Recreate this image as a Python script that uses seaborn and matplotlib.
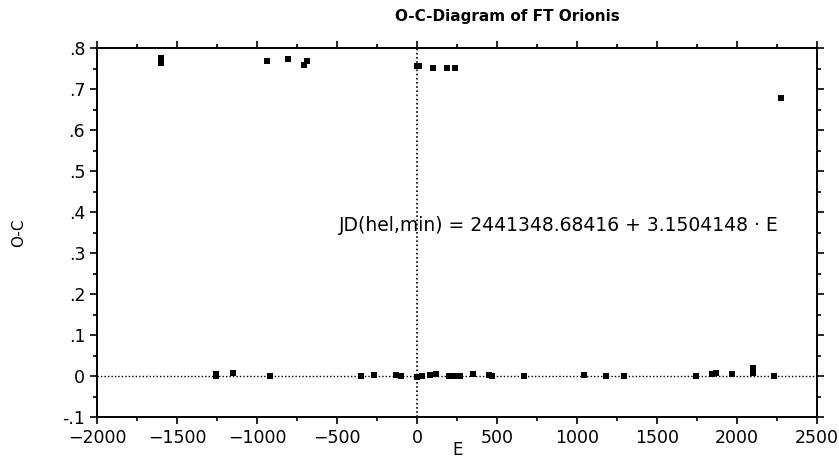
#!/usr/bin/env python3
# O-C diagram of FT Orionis, rebuilt with seaborn
import matplotlib
matplotlib.use("Agg")
import pandas as pd
import seaborn as sns
from matplotlib import pyplot as plt
from matplotlib.ticker import MultipleLocator, FuncFormatter

# epoch E and O-C values (days)
epoch_high = [-1600, -1600, -940, -805, -690, -705, 0, 12, 100, 190, 240, 2275]
oc_high = [0.775, 0.763, 0.768, 0.773, 0.768, 0.759, 0.757, 0.755, 0.752, 0.752, 0.752, 0.678]

epoch_low = [-1255, -1255, -1150, -920, -350, -270, -130, -100, 0, 30, 80, 120,
             200, 240, 270, 350, 450, 470, 670, 1040, 1180, 1290, 1740, 1840,
             1870, 1970, 2100, 2100, 2230]
oc_low = [0.005, 0.0, 0.008, 0.0, 0.0, 0.003, 0.002, 0.0, -0.002, 0.0, 0.002, 0.005,
          0.0, 0.0, 0.001, 0.004, 0.003, 0.0, 0.0, 0.003, 0.0, 0.001, 0.0, 0.005,
          0.008, 0.005, 0.02, 0.008, 0.0]

TITLE = "O-C-Diagram of FT Orionis"
EPHEMERIS = "JD(hel,min) = 2441348.68416 + 3.1504148 \u00b7 E"

df = pd.DataFrame({"E": epoch_high + epoch_low, "OC": oc_high + oc_low})

sns.set_style("ticks")
plt.rcParams["font.family"] = ["DejaVu Sans"]
plt.rcParams["text.color"] = "black"
plt.rcParams["axes.labelcolor"] = "black"
plt.rcParams["xtick.color"] = "black"
plt.rcParams["ytick.color"] = "black"

fig = plt.figure(figsize=(8.39, 4.61), dpi=100)
ax = fig.add_axes([0.1156, 0.0954, 0.8584, 0.8004])

sns.scatterplot(data=df, x="E", y="OC", marker="s", s=18, color="black",
                edgecolor="black", linewidth=0, ax=ax, legend=False)

ax.axhline(0, color="black", linestyle=(0, (1, 1.5)), linewidth=1, zorder=0)
ax.axvline(0, color="black", linestyle=(0, (1, 1.5)), linewidth=1.2, zorder=0)

ax.set_xlim(-2000, 2500)
ax.set_ylim(-0.1, 0.8)
ax.xaxis.set_major_locator(MultipleLocator(500))
ax.xaxis.set_minor_locator(MultipleLocator(250))
ax.yaxis.set_major_locator(MultipleLocator(0.1))
ax.yaxis.set_minor_locator(MultipleLocator(0.05))


def short_fmt(v, pos):
    v = round(v, 2)
    if v == 0:
        return "0"
    s = f"{v:.1f}"
    return s.replace("0.", ".")


ax.yaxis.set_major_formatter(FuncFormatter(short_fmt))
ax.tick_params(which="both", direction="out", top=True, right=True,
               labeltop=False, labelright=False, width=1.2, color="black")
ax.tick_params(which="major", length=5, labelsize=12.5)
ax.tick_params(which="minor", length=3)
for sp in ax.spines.values():
    sp.set_linewidth(1.4)
    sp.set_color("black")

ax.set_xlabel("E", fontsize=12, labelpad=-4)
ax.set_ylabel("O-C", fontsize=11, labelpad=26)
fig.text(0.605, 0.965, TITLE, ha="center", va="center", fontsize=11,
         fontweight="bold")
ax.text(-490, 0.366, EPHEMERIS, ha="left", va="center", fontsize=13.5)

fig.savefig("out.png", dpi=100)
